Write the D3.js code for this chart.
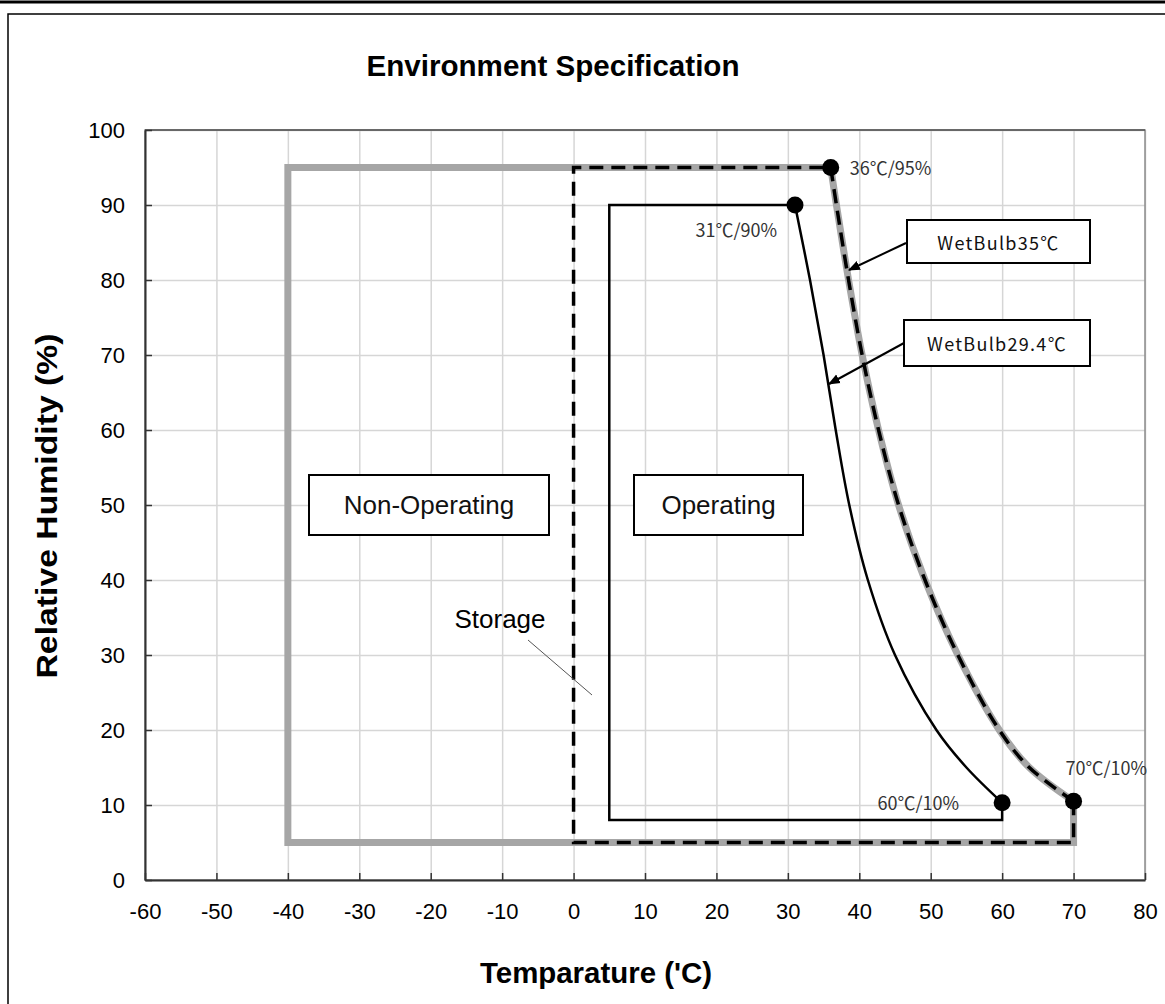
<!DOCTYPE html>
<html>
<head>
<meta charset="utf-8">
<script src="https://cdn.jsdelivr.net/npm/d3@7"></script>
<style>
  body { margin: 0; background: #fff; }
  svg { display: block; }
</style>
</head>
<body>
<script>
// axis ranges / ticks
const xTicks = [-60, -50, -40, -30, -20, -10, 0, 10, 20, 30, 40, 50, 60, 70, 80];
const yTicks = [0, 10, 20, 30, 40, 50, 60, 70, 80, 90, 100];

// straight parts of each envelope [temp, RH]
const nonOperating = [[70, 10.5], [70, 5], [-40, 5], [-40, 95], [36, 95]];
const storage = [[70, 10.5], [70, 5], [0, 5], [0, 95], [36, 95]];
const operating = [[60, 10.3], [60, 8], [5, 8], [5, 90], [31, 90]];

// wet bulb curves
const wetBulb35 = [[36, 95], [36.8, 90], [38.5, 80], [40.4, 70], [42.7, 60], [45.5, 50], [49.2, 40], [53.8, 30], [59.6, 20], [63.8, 15], [70, 10.5]];
const wetBulb294 = [[31, 90], [33.1, 80], [35, 70], [36.7, 60], [38.6, 50], [41.2, 40], [45, 30], [50.8, 20], [55, 15], [60, 10.3]];

// corner points with labels
const corners = [[36, 95, "36℃/95%"], [31, 90, "31℃/90%"], [60, 10.3, "60℃/10%"], [70, 10.5, "70℃/10%"]];

const W = 1165, H = 1004;
const margin = { top: 130, right: 20, bottom: 124, left: 145 };
const iw = W - margin.left - margin.right;   // 1000
const ih = H - margin.top - margin.bottom;   // 750

const x = d3.scaleLinear().domain([-60, 80]).range([0, iw]);
const y = d3.scaleLinear().domain([0, 100]).range([ih, 0]);

const svg = d3.select("body").append("svg")
  .attr("width", W).attr("height", H)
  .attr("font-family", "Arial, 'Liberation Sans', sans-serif");

svg.append("defs").append("marker")
  .attr("id", "arrow").attr("viewBox", "0 0 10 10")
  .attr("refX", 9).attr("refY", 5)
  .attr("markerWidth", 6).attr("markerHeight", 6)
  .attr("orient", "auto")
  .append("path").attr("d", "M0,1 L10,5 L0,9 z").attr("fill", "#000");

// outer frame
svg.append("line").attr("x1", 0).attr("x2", W).attr("y1", 2).attr("y2", 2)
  .attr("stroke", "#000").attr("stroke-width", 3);
svg.append("rect").attr("x", 8).attr("y", 14).attr("width", W + 10).attr("height", H + 10)
  .attr("fill", "none").attr("stroke", "#000").attr("stroke-width", 1.5);

svg.append("text").attr("x", 553).attr("y", 76)
  .attr("text-anchor", "middle").attr("font-size", 29).attr("font-weight", "bold")
  .attr("textLength", 373).attr("lengthAdjust", "spacingAndGlyphs")
  .text("Environment Specification");

const g = svg.append("g").attr("transform", `translate(${margin.left},${margin.top})`);

// grid
g.append("g").attr("transform", `translate(0,${ih})`)
  .call(d3.axisBottom(x).tickValues(xTicks).tickSize(-ih).tickFormat(""))
  .call(s => s.select(".domain").remove())
  .call(s => s.selectAll("line").attr("stroke", "#d6d6d6").attr("stroke-width", 1.5));
g.append("g")
  .call(d3.axisLeft(y).tickValues(yTicks).tickSize(-iw).tickFormat(""))
  .call(s => s.select(".domain").remove())
  .call(s => s.selectAll("line").attr("stroke", "#d6d6d6").attr("stroke-width", 1.5));

g.append("rect").attr("width", iw).attr("height", ih)
  .attr("fill", "none").attr("stroke", "#8c8c8c").attr("stroke-width", 1.5);
g.append("line").attr("x1", 0).attr("x2", iw).attr("y1", 0).attr("y2", 0)
  .attr("stroke", "#555").attr("stroke-width", 1.5);

// axes with inside ticks
const fmt = d => String(d);
const xAxis = g.append("g").attr("transform", `translate(0,${ih})`)
  .call(d3.axisBottom(x).tickValues(xTicks).tickFormat(fmt).tickSizeInner(-7).tickSizeOuter(0).tickPadding(22));
const yAxis = g.append("g")
  .call(d3.axisLeft(y).tickValues(yTicks).tickFormat(fmt).tickSizeInner(-7).tickSizeOuter(0).tickPadding(20));
[xAxis, yAxis].forEach(a => {
  a.attr("font-size", 22).attr("font-family", "Arial, 'Liberation Sans', sans-serif");
  a.selectAll("text").attr("fill", "#000");
  a.selectAll("line").attr("stroke", "#333").attr("stroke-width", 1.5);
  a.select(".domain").attr("stroke", "#333").attr("stroke-width", 2);
});
xAxis.selectAll("text").attr("dy", "0.75em");

const straight = d3.line().x(d => x(d[0])).y(d => y(d[1]));
const curved = d3.line().x(d => x(d[0])).y(d => y(d[1])).curve(d3.curveCatmullRom.alpha(0.5));

// non operating (gray thick)
[straight(nonOperating), curved(wetBulb35)].forEach(d =>
  g.append("path").attr("d", d).attr("fill", "none")
    .attr("stroke", "#a6a6a6").attr("stroke-width", 7).attr("stroke-linejoin", "miter"));

// storage (dashed)
[straight(storage), curved(wetBulb35)].forEach(d =>
  g.append("path").attr("d", d).attr("fill", "none")
    .attr("stroke", "#000").attr("stroke-width", 3.5).attr("stroke-dasharray", "14,8"));

// operating
[straight(operating), curved(wetBulb294)].forEach(d =>
  g.append("path").attr("d", d).attr("fill", "none")
    .attr("stroke", "#000").attr("stroke-width", 2.5));

// dots
g.selectAll("circle.pt").data(corners).join("circle")
  .attr("class", "pt")
  .attr("cx", d => x(d[0])).attr("cy", d => y(d[1])).attr("r", 8.5).attr("fill", "#000");

// corner labels
const cjk = "'Noto Sans CJK JP', sans-serif";
const labelPos = [[19, 7, "start"], [-18, 32, "end"], [-43, 7, "end"], [-8, -26, "start"]];
g.selectAll("text.pt").data(corners).join("text")
  .attr("class", "pt")
  .attr("x", (d, i) => x(d[0]) + labelPos[i][0])
  .attr("y", (d, i) => y(d[1]) + labelPos[i][1])
  .attr("text-anchor", (d, i) => labelPos[i][2])
  .attr("font-family", cjk).attr("font-size", 18)
  .attr("fill", "#333")
  .text(d => d[2]);

// boxed annotations
function box(x0, y0, w, h, label, font, size, spacing) {
  svg.append("rect").attr("x", x0).attr("y", y0).attr("width", w).attr("height", h)
    .attr("fill", "#fff").attr("stroke", "#000").attr("stroke-width", 2);
  svg.append("text").attr("x", x0 + w / 2).attr("y", y0 + h / 2)
    .attr("text-anchor", "middle").attr("dominant-baseline", "central")
    .attr("font-family", font).attr("font-size", size).attr("letter-spacing", spacing)
    .attr("fill", "#111")
    .text(label);
}
box(309, 475, 240, 60, "Non-Operating", "Arial, 'Liberation Sans', sans-serif", 26, 0);
box(634, 475, 169, 60, "Operating", "Arial, 'Liberation Sans', sans-serif", 26, 0);
box(907, 220, 183, 43, "WetBulb35℃", cjk, 18, 1.3);
box(904, 320, 186, 46, "WetBulb29.4℃", cjk, 18, 1.3);

// arrows
svg.append("line").attr("x1", 906).attr("y1", 243).attr("x2", 849).attr("y2", 270)
  .attr("stroke", "#000").attr("stroke-width", 2).attr("marker-end", "url(#arrow)");
svg.append("line").attr("x1", 904).attr("y1", 343).attr("x2", 829).attr("y2", 384)
  .attr("stroke", "#000").attr("stroke-width", 2).attr("marker-end", "url(#arrow)");

// storage label
svg.append("text").attr("x", 500).attr("y", 628).attr("text-anchor", "middle")
  .attr("font-size", 26).text("Storage");
svg.append("line").attr("x1", 528).attr("y1", 640).attr("x2", 592).attr("y2", 695)
  .attr("stroke", "#555").attr("stroke-width", 1);

// axis titles
svg.append("text").attr("x", 596).attr("y", 983).attr("text-anchor", "middle")
  .attr("font-size", 29).attr("font-weight", "bold")
  .attr("textLength", 232).attr("lengthAdjust", "spacingAndGlyphs")
  .text("Temparature ('C)");
svg.append("text").attr("transform", "translate(57,506) rotate(-90)")
  .attr("text-anchor", "middle").attr("font-size", 29).attr("font-weight", "bold")
  .attr("textLength", 345).attr("lengthAdjust", "spacingAndGlyphs")
  .text("Relative Humidity (%)");
</script>
</body>
</html>
